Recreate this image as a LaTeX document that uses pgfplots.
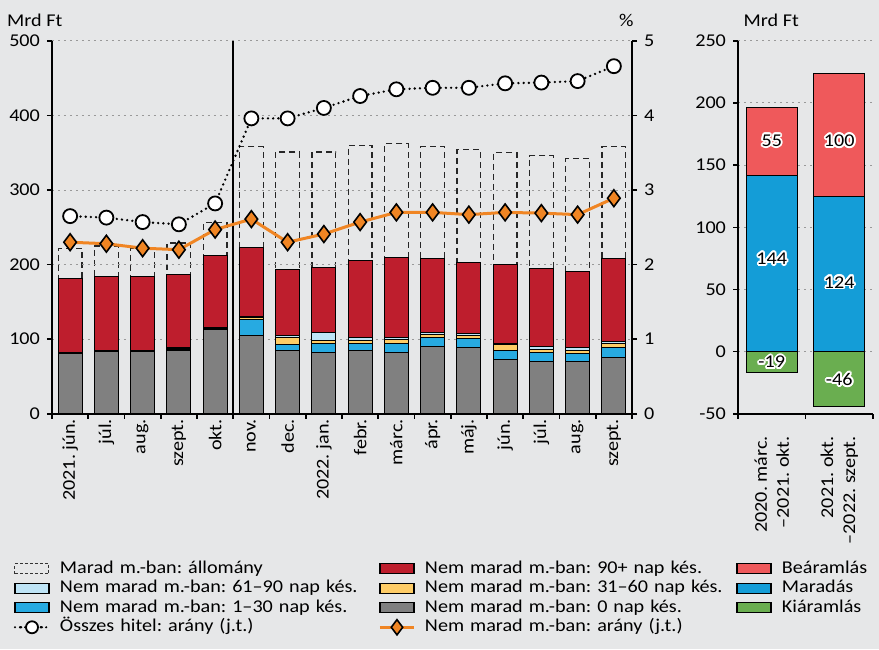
\documentclass[border=0pt]{standalone}
\usepackage{fontspec}
\setmainfont{Carlito}[FakeStretch=1.12]
\usepackage{pgfplots}
\pgfplotsset{compat=1.18}
\usepackage{contour}
\contourlength{0.9pt}
\frenchspacing

\definecolor{bgc}{RGB}{230,231,232}
\definecolor{c90}{RGB}{190,30,45}
\definecolor{c6190}{RGB}{190,228,246}
\definecolor{c3160}{RGB}{254,204,102}
\definecolor{c130}{RGB}{39,170,225}
\definecolor{c0}{RGB}{128,128,128}
\definecolor{cbe}{RGB}{239,89,91}
\definecolor{cma}{RGB}{20,157,215}
\definecolor{cki}{RGB}{106,174,80}
\definecolor{corange}{RGB}{240,133,35}

\newcommand{\fs}{\fontsize{9}{11}\selectfont}

\pgfplotsset{
  bx/.style={legend image code/.code={%
    \path[use as bounding box, draw=none, fill=none] (0pt,-3pt) rectangle (17pt,3pt);
    \draw[##1] (0pt,-2.5pt) rectangle (17pt,2.5pt);}},
  lx/.style={legend image code/.code={%
    \path[use as bounding box, draw=none, fill=none] (0pt,-3pt) rectangle (17pt,3pt);
    \draw[##1] (0pt,0pt) -- (17pt,0pt);
    \draw[##1] plot coordinates {(8.5pt,0pt)};}},
  base/.style={scale only axis, width=290pt, height=186.5pt, at={(0pt,0pt)}, anchor=south west,
    xmin=-0.5, xmax=15.5, /pgf/number format/assume math mode=true,
    tick align=outside, major tick length=2.5pt, minor tick length=2.5pt,
    tick style={black, line width=0.8pt},
    axis line style={-, line width=1.1pt},
    ticklabel style={font=\fs}},
}

% Marad m.-ban: állomány (dashed outline)
\pgfplotstableread{
x  y
0  222
1  225
2  222
3  229
4  256
5  358
6  351
7  351
8  360
9  362
10 358
11 354
12 350
13 346
14 342
15 358
}\marad

% Nem marad m.-ban, stacked components
\pgfplotstableread{
x  d0    d130  d3160 d6190 d90
0  80.4  0.5   0.8   0.5   99.2
1  83.4  0.5   0.8   0.5   98.7
2  83.4  0.5   0.8   0.5   98.7
3  85.4  0.5   2.0   0.5   99.0
4  112.4 0.5   2.0   0.5   97.0
5  105.0 22.0  2.0   2.0   91.4
6  84.4  8.0   10.0  2.6   88.4
7  82.4  12.0  4.0   10.0  87.5
8  84.4  10.0  4.5   3.6   103.3
9  82.4  12.0  4.8   3.6   107.0
10 90.4  12.0  4.0   2.6   99.0
11 88.4  12.0  4.0   2.8   96.2
12 72.4  12.4  7.6   1.5   106.1
13 70.0  12.0  4.5   4.0   104.9
14 70.0  10.4  4.4   3.6   103.0
15 76.0  12.5  6.3   2.7   110.6
}\nemmarad

% ratios (right axis, %)
\pgfplotstableread{
x  ossz  nem
0  2.65  2.30
1  2.63  2.28
2  2.57  2.22
3  2.54  2.20
4  2.82  2.47
5  3.96  2.61
6  3.96  2.30
7  4.10  2.41
8  4.26  2.57
9  4.35  2.70
10 4.37  2.70
11 4.37  2.67
12 4.43  2.70
13 4.44  2.69
14 4.46  2.67
15 4.66  2.89
}\arany

\begin{document}
\begin{tikzpicture}[font=\fs]
\fill[bgc] (-26pt,-117.6pt) rectangle (413.5pt,206.9pt);

% dashed outline bars
\begin{axis}[base, hide axis, ymin=0, ymax=500]
\addplot[ybar, bar width=0.66, draw=black!85, line width=0.6pt,
  dash pattern=on 3pt off 2pt, fill=none] table[x=x, y=y] {\marad};
\end{axis}

% stacked bars
\begin{axis}[base, ymin=0, ymax=500, ybar stacked, bar width=0.66,
  axis x line*=bottom, axis y line*=left,
  ytick={0,100,...,500}, ymajorgrids,
  grid style={gray!80, line width=0.5pt, dash pattern=on 1.2pt off 1.8pt},
  xtick={0,...,15},
  xticklabels={2021. jún.,júl.,aug.,szept.,okt.,nov.,dec.,2022. jan.,febr.,márc.,ápr.,máj.,jún.,júl.,aug.,szept.},
  major x tick style={draw=none},
  minor xtick={-0.5,0.5,...,15.5},
  xticklabel style={rotate=90, anchor=east, inner sep=0pt},
  extra x ticks={4.5}, extra x tick labels={},
  extra x tick style={grid=major, major grid style={solid, black, line width=1.1pt}},
  ylabel={Mrd Ft},
  every axis y label/.style={at={(axis description cs:0.03,1.055)}, anchor=east, font=\fs},
  legend columns=3,
  legend cell align=left,
  legend style={at={(axis description cs:-0.0638,-0.39)}, anchor=north west,
    draw=none, fill=none, inner sep=0pt, outer sep=0pt, font=\fs, row sep=0.25pt,
    nodes={inner sep=0pt, text height=7pt, text depth=2.5pt},
    /tikz/every odd column/.style={column sep=5.5pt},
    /tikz/column 2/.style={text width=160pt, align=left},
    /tikz/column 4/.style={text width=156pt, align=left}},
]
\addplot[forget plot, fill=c0, draw=black, line width=0.5pt] table[x=x, y=d0] {\nemmarad};
\addplot[forget plot, fill=c130, draw=black, line width=0.5pt] table[x=x, y=d130] {\nemmarad};
\addplot[forget plot, fill=c3160, draw=black, line width=0.5pt] table[x=x, y=d3160] {\nemmarad};
\addplot[forget plot, fill=c6190, draw=black, line width=0.5pt] table[x=x, y=d6190] {\nemmarad};
\addplot[forget plot, fill=c90, draw=black, line width=0.5pt] table[x=x, y=d90] {\nemmarad};

\addlegendimage{bx, draw=black!80, line width=0.5pt, dash pattern=on 1.5pt off 1pt, fill=none}
\addlegendentry{Marad m.-ban: állomány}
\addlegendimage{bx, fill=c90, draw=black, line width=0.6pt}
\addlegendentry{Nem marad m.-ban: 90+ nap kés.}
\addlegendimage{bx, fill=cbe, draw=black, line width=0.6pt}
\addlegendentry{Beáramlás}
\addlegendimage{bx, fill=c6190, draw=black, line width=0.6pt}
\addlegendentry{Nem marad m.-ban: 61–90 nap kés.}
\addlegendimage{bx, fill=c3160, draw=black, line width=0.6pt}
\addlegendentry{Nem marad m.-ban: 31–60 nap kés.}
\addlegendimage{bx, fill=cma, draw=black, line width=0.6pt}
\addlegendentry{Maradás}
\addlegendimage{bx, fill=c130, draw=black, line width=0.6pt}
\addlegendentry{Nem marad m.-ban: 1–30 nap kés.}
\addlegendimage{bx, fill=c0, draw=black, line width=0.6pt}
\addlegendentry{Nem marad m.-ban: 0 nap kés.}
\addlegendimage{bx, fill=cki, draw=black, line width=0.6pt}
\addlegendentry{Kiáramlás}
\addlegendimage{lx, black, line width=1.2pt, dash pattern=on 0pt off 2.6pt, line cap=round,
  mark=*, mark size=3pt, mark options={solid, fill=white, draw=black, line width=0.9pt}}
\addlegendentry{Összes hitel: arány (j.t.)}
\addlegendimage{lx, corange, line width=1.5pt, mark=diamond*, mark size=3.8pt,
  mark options={fill=corange, draw=black, line width=0.8pt}}
\addlegendentry{Nem marad m.-ban: arány (j.t.)}
\end{axis}

% ratio lines on the right axis
\begin{axis}[base, ymin=0, ymax=5, axis y line*=right, axis x line=none,
  ytick={0,...,5}, xtick=\empty,
  ylabel={\%},
  every axis y label/.style={at={(axis description cs:0.99,1.055)}, anchor=center, font=\fs}]
\addplot[black, line width=1.3pt, dash pattern=on 0pt off 2.6pt, line cap=round,
  mark=*, mark size=3.5pt, mark options={solid, fill=white, draw=black, line width=0.9pt}]
  table[x=x, y=ossz] {\arany};
\addplot[corange, line width=1.5pt, mark=diamond*, mark size=4.2pt,
  mark options={fill=corange, draw=black, line width=0.8pt}]
  table[x=x, y=nem] {\arany};
\end{axis}

% right panel: flows
\begin{axis}[scale only axis, width=67.5pt, height=186.5pt, at={(343pt,0pt)}, anchor=south west,
  xmin=-0.5, xmax=1.5, ymin=-50, ymax=250, ybar stacked, bar width=0.76,
  /pgf/number format/assume math mode=true,
  tick align=outside, major tick length=2.5pt, minor tick length=2.5pt,
  tick style={black, line width=0.8pt}, axis line style={-, line width=1.1pt},
  ticklabel style={font=\fs},
  axis x line*=bottom, axis y line*=left,
  ytick={-50,0,...,250}, ymajorgrids,
  grid style={gray!80, line width=0.5pt, dash pattern=on 1.2pt off 1.8pt},
  xtick={0,1},
  xticklabels={{2020. márc.\\–2021. okt.},{2021. okt.\\–2022. szept.}},
  xticklabel style={rotate=90, anchor=east, align=right, inner sep=0pt, xshift=-8.5pt},
  major x tick style={draw=none},
  minor xtick={-0.5,0.5,1.5},
  ylabel={Mrd Ft},
  every axis y label/.style={at={(axis description cs:-0.01,1.055)}, anchor=west, font=\fs}]
\addplot[fill=cma, draw=black, line width=0.5pt] coordinates {(0,142) (1,124.6)};
\addplot[fill=cbe, draw=black, line width=0.5pt] coordinates {(0,54.5) (1,99)};
\end{axis}

\begin{axis}[scale only axis, width=67.5pt, height=186.5pt, at={(343pt,0pt)}, anchor=south west,
  xmin=-0.5, xmax=1.5, ymin=-50, ymax=250, hide axis]
\addplot[ybar, bar width=0.76, fill=cki, draw=black, line width=0.5pt] coordinates {(0,-17) (1,-44.5)};
\addplot[draw=none, nodes near coords={\contour{white}{\pgfplotspointmeta}},
  point meta=explicit symbolic,
  every node near coord/.append style={anchor=center, font=\fs, text=black}]
  table[x=x, y=y, meta=lab] {
x y lab
0 169 55
0 74 144
0 -9 -19
1 169 100
1 55 124
1 -23 -46
};
\end{axis}

\pgfresetboundingbox
\path (-26pt,-117.6pt) rectangle (413.5pt,206.9pt);
\end{tikzpicture}
\end{document}
